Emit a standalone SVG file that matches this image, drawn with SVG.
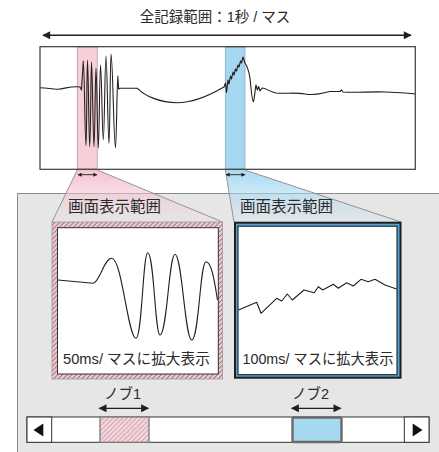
<svg xmlns="http://www.w3.org/2000/svg" width="439" height="452" viewBox="0 0 439 452">
<defs>
<style>
text{font-family:"Liberation Sans","Noto Sans CJK JP",sans-serif;fill:#2a2a2a}
.wave{fill:none;stroke:#231f20;stroke-width:1.1;stroke-linejoin:round}
.arrow{stroke:#231f20;fill:none}
.fan{stroke:#8a8a8a;stroke-width:0.9}
</style>
<marker id="ah" viewBox="0 0 10 10" refX="9" refY="5" markerUnits="userSpaceOnUse" markerWidth="9" markerHeight="8" orient="auto-start-reverse"><path d="M0,0 L10,5 L0,10 z" fill="#231f20"/></marker>
<marker id="ahs" viewBox="0 0 10 10" refX="9" refY="5" markerUnits="userSpaceOnUse" markerWidth="4.5" markerHeight="4" orient="auto-start-reverse"><path d="M0,0 L10,5 L0,10 z" fill="#231f20"/></marker>
<pattern id="hatchFrame" patternUnits="userSpaceOnUse" width="4.7" height="4.7"><rect width="4.7" height="4.7" fill="#f2c6d1"/><path d="M-1,1 L1,-1 M0,4.7 L4.7,0 M3.7,5.7 L5.7,3.7" stroke="#3a3a3a" stroke-width="0.7"/></pattern>
<pattern id="hatchKnob" patternUnits="userSpaceOnUse" width="4.7" height="4.7"><rect width="4.7" height="4.7" fill="#f7d3dc"/><path d="M-1,1 L1,-1 M0,4.7 L4.7,0 M3.7,5.7 L5.7,3.7" stroke="#8a7a7e" stroke-width="0.6"/></pattern>
<linearGradient id="gPink" x1="0" y1="0" x2="0" y2="1"><stop offset="0" stop-color="#f4c3d1"/><stop offset="1" stop-color="#f4c3d1" stop-opacity="0.05"/></linearGradient>
<linearGradient id="gBlue" x1="0" y1="0" x2="0" y2="1"><stop offset="0" stop-color="#a8daf3"/><stop offset="1" stop-color="#a8daf3" stop-opacity="0.05"/></linearGradient>
</defs>
<rect width="439" height="452" fill="#ffffff"/>

<g id="panel">
<rect x="17.5" y="193.5" width="430" height="270" fill="#e6e6e6" stroke="#8a8a8a" stroke-width="1"/>
</g>

<g id="title">
<text x="215" y="22" font-size="14.5" text-anchor="middle">全記録範囲：1秒 / マス</text>
</g>

<g id="overview">
<rect x="40" y="46.7" width="375.3" height="122.6" fill="#ffffff"/>
<rect x="77.3" y="47" width="20" height="122" fill="#f7cfd9" stroke="#b79aa2" stroke-width="0.8"/>
<rect x="225.3" y="47" width="19.7" height="122" fill="#a6d7f2" stroke="#8fa9b6" stroke-width="0.8"/>
<path class="wave" d="M40,87.7 C48,87.7 52,89.5 58,89.2 C64,89 68,86.5 78,86.7 L80,87 L81.5,90 L83.3,61 C84.4,61 84.9,145.7 86,145.7 C86.9,145.7 86.6,60 87.5,60 C88.4,60 88.8,146.7 89.7,146.7 C90.7,146.7 90.8,62 91.5,62 C92.5,62 93,146.7 94,146.7 C94.9,146.7 95.2,68 96,68 C96.9,68 97.4,148 98.3,148 C99.2,148 99.6,65 100.5,65 C101.6,65 102.2,140 103.3,140 C104.4,140 104.9,56 106,56 C107.2,56 107.8,143.3 109,143.3 C109.9,143.3 110.2,54 111,54 C112.8,54 113.7,148 115.5,148 C116.5,148 117,76 117.8,76 L118.6,89 L120,88.3 L137.5,88.3 C145,96 160,102.7 177,102.7 C195,102.7 210,95 222,88 L224,87 L225.5,83 L226.5,92.5 L228,80 L229,84 L230.5,76 L231.5,79 L233,72 L234,75 L235.5,69 L236.5,71 L238,65 L239,67 L240.5,61 L241.5,63 L243,57 L245,63 C247,66 249,72 250,78 C251,88 252,101 253.3,101.7 C254.5,101 255,88 256,85 L257.3,90 L258.7,86.5 L260,91 L262,88 C266,88 270,92 276,93 C285,94 295,92 305,94 C315,96 322,93 330,91.5 L340,91.5 L341.5,90 L343,92 C355,93 370,91.5 385,92 C400,92.5 410,93 415,94"/>
<rect x="40" y="46.7" width="375.3" height="122.6" fill="none" stroke="#3a3a3a" stroke-width="1.2"/>
</g>

<g id="connectors">
<path d="M77.3,170 L97.3,170 L222.5,222 L52,222 Z" fill="url(#gPink)"/>
<path d="M225.3,170 L245,170 L401,222 L234,222 Z" fill="url(#gBlue)"/>
<path class="fan" d="M77.3,170 L52,222 M97.3,170 L222.5,222 M225.3,170 L234,222 M245,170 L401,222" fill="none"/>
<line class="arrow" x1="43" y1="35.3" x2="411" y2="35.3" stroke-width="1.6" marker-start="url(#ah)" marker-end="url(#ah)"/>
<line class="arrow" x1="78" y1="174.7" x2="97" y2="174.7" stroke-width="0.9" marker-start="url(#ahs)" marker-end="url(#ahs)"/>
<line class="arrow" x1="226" y1="174.7" x2="245" y2="174.7" stroke-width="0.9" marker-start="url(#ahs)" marker-end="url(#ahs)"/>
<line class="arrow" x1="99.3" y1="408.3" x2="148.3" y2="408.3" stroke-width="1.2" marker-start="url(#ah)" marker-end="url(#ah)"/>
<line class="arrow" x1="291.7" y1="408.3" x2="340.7" y2="408.3" stroke-width="1.2" marker-start="url(#ah)" marker-end="url(#ah)"/>
</g>

<g id="label-view1">
<text x="68" y="212" font-size="15.5">画面表示範囲</text>
</g>
<g id="label-view2">
<text x="240" y="212" font-size="15.5">画面表示範囲</text>
</g>

<g id="view1">
<rect x="52" y="222" width="170.5" height="157" fill="url(#hatchFrame)" stroke="#9a9a9a" stroke-width="0.8"/>
<rect x="57.5" y="227.7" width="160.8" height="146.3" fill="#ffffff" stroke="#333" stroke-width="1"/>
<path class="wave" d="M57.8,280 L93,283.3 C100,282 104,258.3 111.7,258.3 C122,258.3 128,338.3 136,338.3 C142,338.3 143,252.7 147.7,252.7 C154,252.7 155,335 160,335 C167,335 169,254.3 175,254.3 C182,254.3 185,340 191.7,340 C199,340 200,261.7 206,261.7 C212,261.7 215,285 217.5,300"/>
<text x="63" y="364" font-size="14.7">50ms/ マスに拡大表示</text>
</g>

<g id="view2">
<rect x="235" y="222.7" width="165.5" height="155" fill="#4fa6d6" stroke="#1e1e1e" stroke-width="2"/>
<rect x="238" y="226.2" width="159" height="148.5" fill="#ffffff" stroke="#1e1e1e" stroke-width="1.1"/>
<polyline class="wave" points="238.5,310 256.7,302.3 261,313.3 276.7,298.3 281.7,301 287.3,294 292.3,300 304,290 314.3,292.7 318.3,286.7 322.7,290 333.3,284.3 338.3,288.3 346.7,282.7 353.3,286 361,279.3 368.3,281.7 375,279.3 385,285 396.5,289"/>
<text x="242.5" y="364" font-size="14.3">100ms/ マスに拡大表示</text>
</g>

<g id="scrollbar">
<rect x="27" y="417" width="402" height="25.3" fill="#ffffff" stroke="#333" stroke-width="1"/>
<rect x="27" y="417" width="24.7" height="25.3" fill="#ffffff" stroke="#333" stroke-width="1"/>
<path d="M33.5,430 L43.3,423.5 L43.3,436.5 Z" fill="#111"/>
<rect x="404.3" y="417" width="24.7" height="25.3" fill="#ffffff" stroke="#333" stroke-width="1"/>
<path d="M422.5,430 L412.7,423.5 L412.7,436.5 Z" fill="#111"/>
</g>

<g id="knob1">
<rect x="100" y="417" width="49" height="25.3" fill="url(#hatchKnob)" stroke="#7a7a7a" stroke-width="1.3"/>
<text x="104" y="398.5" font-size="14.5">ノブ1</text>
</g>

<g id="knob2">
<rect x="292.5" y="417.5" width="49" height="24.5" rx="1.5" fill="#a7d8f2" stroke="#6a6a6a" stroke-width="2.4"/>
<text x="292" y="398.5" font-size="14.5">ノブ2</text>
</g>
</svg>
